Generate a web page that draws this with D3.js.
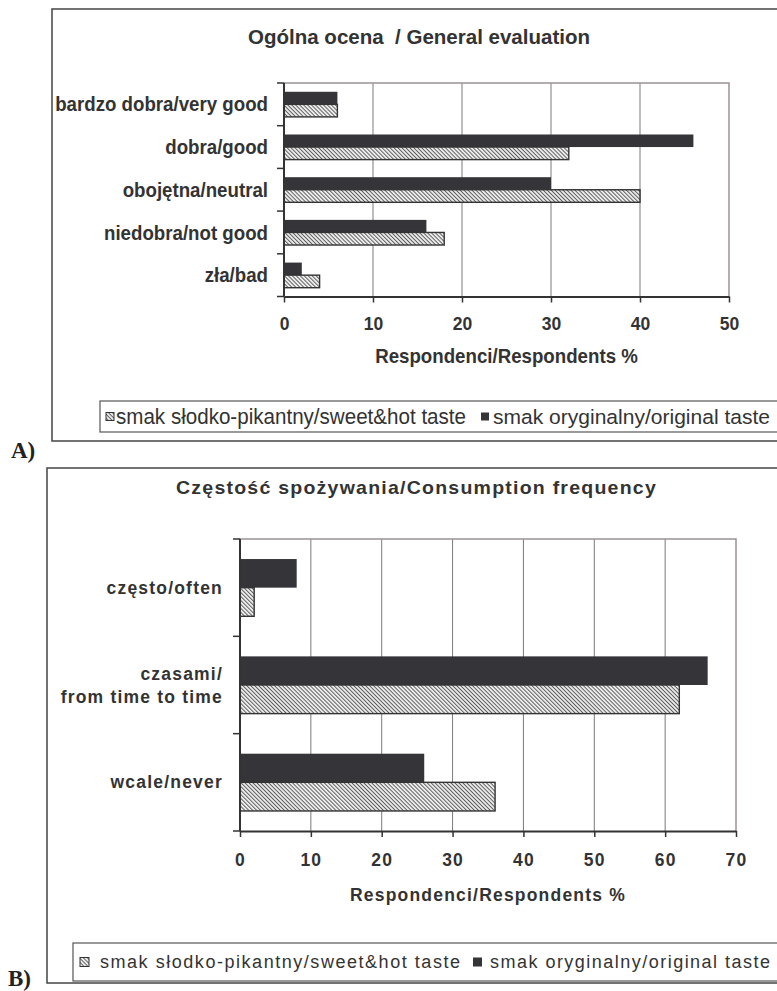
<!DOCTYPE html>
<html>
<head>
<meta charset="utf-8">
<script src="https://cdn.jsdelivr.net/npm/d3@7"></script>
<style>
  html, body { margin: 0; padding: 0; background: #fff; }
  svg { display: block; }
</style>
</head>
<body>
<div id="chart"></div>
<script>
// ---------------- DATA ----------------
const seriesNames = ["smak słodko-pikantny/sweet&hot taste", "smak oryginalny/original taste"];

const topTitle = "Ogólna ocena  / General evaluation";
const topCategories = ["bardzo dobra/very good", "dobra/good", "obojętna/neutral", "niedobra/not good", "zła/bad"];
const topOriginal = [6, 46, 30, 16, 2];
const topSweet = [6, 32, 40, 18, 4];
const topTicks = [0, 10, 20, 30, 40, 50];

const bottomTitle = "Częstość spożywania/Consumption frequency";
const bottomCategories = ["często/often", "czasami/|from time to time", "wcale/never"];
const bottomOriginal = [8, 66, 26];
const bottomSweet = [2, 62, 36];
const bottomTicks = [0, 10, 20, 30, 40, 50, 60, 70];

const axisTitle = "Respondenci/Respondents %";
const panelLabels = ["A)", "B)"];

// ---------------- DRAW ----------------
const W = 777, H = 991;
const svg = d3.select("#chart").append("svg").attr("width", W).attr("height", H);
const FONT = "'Liberation Sans', Arial, Helvetica, sans-serif";
const TXT = "#333";
const DARK = "#353438";

const defs = svg.append("defs");
const pat = defs.append("pattern").attr("id", "hatch")
  .attr("patternUnits", "userSpaceOnUse").attr("width", 2.8).attr("height", 2.8)
  .attr("patternTransform", "rotate(-45)");
pat.append("rect").attr("width", 2.8).attr("height", 2.8).attr("fill", "#ececec");
pat.append("line").attr("x1", 0.5).attr("y1", 0).attr("x2", 0.5).attr("y2", 2.8)
  .attr("stroke", "#505050").attr("stroke-width", 0.9);

// render text taller than its natural width (reference glyphs look vertically stretched)
function stretch(sel, renderSize) {
  sel.each(function () {
    const len = this.getComputedTextLength();
    d3.select(this).style("font-size", renderSize + "px")
      .attr("textLength", len).attr("lengthAdjust", "spacingAndGlyphs");
  });
}

function drawChart(cfg) {
  const g = svg.append("g");
  const st = cfg.stretch || 1;
  // outer frame
  g.append("rect").attr("x", cfg.frame[0]).attr("y", cfg.frame[1])
    .attr("width", cfg.frame[2]).attr("height", cfg.frame[3])
    .attr("fill", "none").attr("stroke", "#444").attr("stroke-width", 1.5);

  // title
  const tt = g.append("text").attr("x", cfg.titlePos[0]).attr("y", cfg.titlePos[1])
    .attr("text-anchor", "start").attr("dominant-baseline", "central")
    .style("font-family", FONT).style("font-weight", "bold").style("white-space", "pre")
    .style("font-size", cfg.titleSize + "px").style("letter-spacing", cfg.ls + "px")
    .attr("fill", TXT).text(cfg.title);
  if (cfg.titleLen) tt.attr("textLength", cfg.titleLen).attr("lengthAdjust", "spacingAndGlyphs");
  else if (st !== 1) stretch(tt, cfg.titleSize * st);

  const x = d3.scaleLinear().domain([0, d3.max(cfg.ticks)]).range([cfg.x0, cfg.x1]);
  const y = d3.scaleBand().domain(cfg.categories).range([cfg.yTop, cfg.yBot]).padding(0);
  const bw = y.bandwidth();
  const gh = bw / 1.7;
  const sub = d3.scaleBand().domain(["orig", "sweet"]).range([0, gh]);

  // gridlines
  g.append("g").selectAll("line").data(cfg.ticks.slice(1, -1)).join("line")
    .attr("x1", d => x(d)).attr("x2", d => x(d))
    .attr("y1", cfg.yTop).attr("y2", cfg.yBot)
    .attr("stroke", "#7a7a7a").attr("stroke-width", 1);
  // top & right border of plot
  g.append("path")
    .attr("d", `M${cfg.x0},${cfg.yTop}H${cfg.x1}V${cfg.yBot}`)
    .attr("fill", "none").attr("stroke", "#9c9292").attr("stroke-width", 1.5);

  const rows = cfg.categories.map((c, i) => ({ c, orig: cfg.original[i], sweet: cfg.sweet[i] }));
  const bars = g.append("g");
  bars.selectAll("rect.orig").data(rows).join("rect").attr("class", "orig")
    .attr("x", x(0)).attr("y", d => y(d.c) + (bw - gh) / 2 + sub("orig"))
    .attr("width", d => x(d.orig) - x(0)).attr("height", sub.bandwidth())
    .attr("fill", DARK);
  bars.selectAll("rect.sweet").data(rows).join("rect").attr("class", "sweet")
    .attr("x", x(0)).attr("y", d => y(d.c) + (bw - gh) / 2 + sub("sweet"))
    .attr("width", d => x(d.sweet) - x(0)).attr("height", sub.bandwidth())
    .attr("fill", "url(#hatch)").attr("stroke", "#333").attr("stroke-width", 1.4);

  // x axis
  const xa = g.append("g").attr("transform", `translate(0,${cfg.yBot})`)
    .call(d3.axisBottom(x).tickValues(cfg.ticks).tickSize(6).tickSizeOuter(0).tickFormat(d3.format("d")));
  xa.select(".domain").attr("stroke", "#333").attr("stroke-width", 2);
  xa.selectAll(".tick line").attr("stroke", "#333").attr("stroke-width", 1.5);
  const tl = xa.selectAll(".tick text").attr("y", cfg.tickLabelDy).attr("dy", "0.35em")
    .style("font-family", FONT).style("font-weight", "bold")
    .style("font-size", cfg.tickSize + "px").style("letter-spacing", cfg.ls + "px")
    .attr("fill", TXT);
  if (st !== 1) stretch(tl, cfg.tickSize * st);

  // y axis line + boundary ticks
  g.append("line").attr("x1", cfg.x0).attr("x2", cfg.x0).attr("y1", cfg.yTop).attr("y2", cfg.yBot)
    .attr("stroke", "#333").attr("stroke-width", 2);
  const bounds = cfg.categories.map(c => y(c)).concat([cfg.yBot]);
  g.append("g").selectAll("line").data(bounds).join("line")
    .attr("x1", cfg.x0 - 7).attr("x2", cfg.x0).attr("y1", d => d).attr("y2", d => d)
    .attr("stroke", "#333").attr("stroke-width", 1.5);

  // category labels
  const lab = g.append("g").selectAll("text").data(cfg.categories).join("text")
    .attr("x", cfg.labelX).attr("y", d => y(d) + bw / 2)
    .attr("text-anchor", "end")
    .style("font-family", FONT).style("font-weight", "bold")
    .style("font-size", cfg.labelSize + "px").style("letter-spacing", cfg.ls + "px")
    .attr("fill", TXT);
  lab.each(function (d) {
    const parts = d.split("|");
    const t = d3.select(this);
    if (parts.length === 1) {
      t.attr("dy", "0.35em").text(d);
    } else {
      parts.forEach((p, k) => {
        t.append("tspan").attr("x", cfg.labelX)
          .attr("dy", k === 0 ? (0.35 - (parts.length - 1) * 0.65) + "em" : "1.35em")
          .text(p);
      });
    }
  });
  if (st !== 1) stretch(lab, cfg.labelSize * st);

  // axis title
  const at = g.append("text").attr("x", (cfg.x0 + cfg.x1) / 2).attr("y", cfg.axisTitleY)
    .attr("text-anchor", "middle").attr("dominant-baseline", "central")
    .style("font-family", FONT).style("font-weight", "bold")
    .style("font-size", cfg.axisTitleSize + "px").style("letter-spacing", cfg.ls + "px")
    .attr("fill", TXT).text(axisTitle);
  if (st !== 1) stretch(at, cfg.axisTitleSize * st);

  // legend
  const L = cfg.legend;
  g.append("rect").attr("x", L.box[0]).attr("y", L.box[1]).attr("width", L.box[2]).attr("height", L.box[3])
    .attr("fill", "#fff").attr("stroke", "#555").attr("stroke-width", 1.2);
  const cy = L.box[1] + L.box[3] / 2;
  g.append("rect").attr("x", L.sw[0]).attr("y", cy - L.swSize / 2 + L.swDy)
    .attr("width", L.swSize).attr("height", L.swSize)
    .attr("fill", "url(#hatch)").attr("stroke", "#333").attr("stroke-width", 1);
  g.append("rect").attr("x", L.sw[1]).attr("y", cy - L.swSize / 2 + L.swDy)
    .attr("width", L.swSize).attr("height", L.swSize).attr("fill", DARK);
  [0, 1].forEach(k => {
    g.append("text").attr("x", L.tx[k]).attr("y", cy + L.textDy)
      .attr("dominant-baseline", "central")
      .attr("textLength", L.tl[k]).attr("lengthAdjust", L.adjust)
      .style("font-family", FONT).style("font-size", L.size[k] + "px")
      .attr("fill", TXT).text(seriesNames[k]);
  });

  // panel label
  svg.append("text").attr("x", cfg.panel[0]).attr("y", cfg.panel[1])
    .style("font-family", "'Liberation Serif', 'Times New Roman', serif")
    .style("font-weight", "bold").style("font-size", "23px")
    .attr("fill", "#222").text(cfg.panelText);
}

drawChart({
  frame: [52, 9, 760, 432], stretch: 1.08,
  title: topTitle, titlePos: [248, 36], titleSize: 20.5, titleLen: 342,
  categories: topCategories, original: topOriginal, sweet: topSweet, ticks: topTicks,
  x0: 284, x1: 729, yTop: 83, yBot: 296.5,
  tickLabelDy: 27, tickSize: 17.5, labelX: 268, labelSize: 18.7,
  axisTitleY: 356, axisTitleSize: 18.7, ls: 0,
  legend: { box: [100, 401, 700, 31], sw: [106, 481], swSize: 8, swDy: 0,
            tx: [116, 493], tl: [350, 277], adjust: "spacingAndGlyphs", size: [22, 20.5], textDy: 0 },
  panel: [11, 458], panelText: panelLabels[0]
});

drawChart({
  frame: [47, 468, 760, 515],
  title: bottomTitle, titlePos: [176, 487], titleSize: 19, titleLen: 481,
  categories: bottomCategories, original: bottomOriginal, sweet: bottomSweet, ticks: bottomTicks,
  x0: 240, x1: 736, yTop: 539, yBot: 831,
  tickLabelDy: 29, tickSize: 17.5, labelX: 223, labelSize: 17.5,
  axisTitleY: 895, axisTitleSize: 17.5, ls: 1.2,
  legend: { box: [73, 943, 720, 38], sw: [80, 473], swSize: 9, swDy: 0,
            tx: [100, 490], tl: [360, 280], adjust: "spacing", size: [18, 18], textDy: 0 },
  panel: [8, 986], panelText: panelLabels[1]
});
</script>
</body>
</html>
